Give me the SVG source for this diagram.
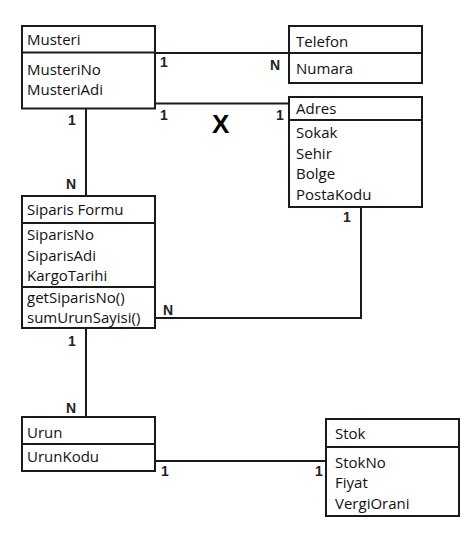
<svg xmlns="http://www.w3.org/2000/svg" width="476" height="534" viewBox="0 0 476 534">
<style>
.box{fill:#fff;stroke:#1a1a1a;stroke-width:2}
.ln{fill:none;stroke:#1a1a1a;stroke-width:2}
.t{font-family:"Open Sans","Noto Sans",sans-serif;font-size:15px;fill:#111}
.c{font-family:"Liberation Sans",Arial,sans-serif;font-size:14px;font-weight:bold;fill:#222}
.x{font-family:"Liberation Sans",Arial,sans-serif;font-size:26px;font-weight:bold;fill:#000}
</style>
<rect width="476" height="534" fill="#fff"/>
<g id="connectors">
<path class="ln" d="M155 53H289"/>
<path class="ln" d="M155 103.5H289"/>
<path class="ln" d="M86 108.5V196"/>
<path class="ln" d="M361 207V318H155"/>
<path class="ln" d="M86 328V417"/>
<path class="ln" d="M155 461H326"/>
<text class="c" x="160" y="67">1</text>
<text class="c" x="270" y="70">N</text>
<text class="c" x="160" y="120">1</text>
<text class="c" x="276" y="120">1</text>
<text class="x" x="212" y="133">X</text>
<text class="c" x="68" y="125">1</text>
<text class="c" x="66" y="189">N</text>
<text class="c" x="343" y="222">1</text>
<text class="c" x="163" y="315">N</text>
<text class="c" x="68" y="346">1</text>
<text class="c" x="66" y="413">N</text>
<text class="c" x="161" y="476">1</text>
<text class="c" x="315" y="476">1</text>
</g>
<g id="musteri">
<rect class="box" x="22" y="26" width="133" height="82.5"/>
<path class="ln" d="M22 52.5H155"/>
<text class="t" x="27" y="45">Musteri</text>
<text class="t" x="27" y="75">MusteriNo</text>
<text class="t" x="27" y="95">MusteriAdi</text>
</g>
<g id="telefon">
<rect class="box" x="289" y="26" width="133" height="57"/>
<path class="ln" d="M289 53H422"/>
<text class="t" x="296" y="47">Telefon</text>
<text class="t" x="296" y="74">Numara</text>
</g>
<g id="adres">
<rect class="box" x="289" y="97" width="133" height="110"/>
<path class="ln" d="M289 120H422"/>
<text class="t" x="296" y="114">Adres</text>
<text class="t" x="296" y="138">Sokak</text>
<text class="t" x="296" y="159">Sehir</text>
<text class="t" x="296" y="179">Bolge</text>
<text class="t" x="296" y="200">PostaKodu</text>
</g>
<g id="siparis">
<rect class="box" x="22" y="196" width="133" height="132"/>
<path class="ln" d="M22 223H155"/>
<path class="ln" d="M22 287H155"/>
<text class="t" x="27" y="215">Siparis Formu</text>
<text class="t" x="27" y="240">SiparisNo</text>
<text class="t" x="27" y="261">SiparisAdi</text>
<text class="t" x="27" y="281">KargoTarihi</text>
<text class="t" x="27" y="303">getSiparisNo()</text>
<text class="t" x="27" y="323">sumUrunSayisi()</text>
</g>
<g id="urun">
<rect class="box" x="22" y="417" width="133" height="54"/>
<path class="ln" d="M22 444H155"/>
<text class="t" x="27" y="438">Urun</text>
<text class="t" x="27" y="462">UrunKodu</text>
</g>
<g id="stok">
<rect class="box" x="326" y="419" width="133" height="97"/>
<path class="ln" d="M326 447H459"/>
<text class="t" x="335" y="439">Stok</text>
<text class="t" x="335" y="468">StokNo</text>
<text class="t" x="335" y="488">Fiyat</text>
<text class="t" x="335" y="509">VergiOrani</text>
</g>
</svg>
